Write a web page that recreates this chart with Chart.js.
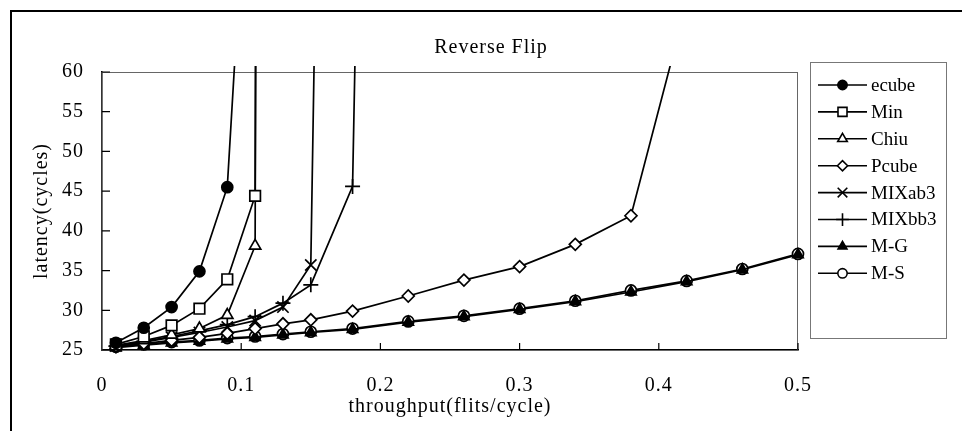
<!DOCTYPE html>
<html>
<head>
<meta charset="utf-8">
<script src="https://cdn.jsdelivr.net/npm/chart.js@4/dist/chart.umd.min.js"></script>
<style>
  html, body { margin: 0; padding: 0; background: #fff; }
  canvas { display: block; }
</style>
</head>
<body>
<canvas id="chart1" width="962" height="431"></canvas>
<script>
// values
var seriesNames = ["ecube", "Min", "Chiu", "Pcube", "MIXab3", "MIXbb3", "M-G", "M-S"];

var ecubeX = [0.01, 0.03, 0.05, 0.07, 0.09, 0.10];
var ecubeY = [25.9, 27.8, 30.4, 34.9, 45.5, 75];

var minX = [0.01, 0.03, 0.05, 0.07, 0.09, 0.11, 0.111];
var minY = [25.7, 26.7, 28.1, 30.2, 33.9, 44.4, 100];

var chiuX = [0.01, 0.03, 0.05, 0.07, 0.09, 0.11, 0.111];
var chiuY = [25.6, 26.2, 26.9, 27.7, 29.4, 38.1, 100];

var pcubeX = [0.01, 0.03, 0.05, 0.07, 0.09, 0.11, 0.13, 0.15, 0.18, 0.22, 0.26, 0.30, 0.34, 0.38, 0.42];
var pcubeY = [25.5, 25.8, 26.2, 26.6, 27.1, 27.7, 28.3, 28.8, 29.9, 31.8, 33.8, 35.5, 38.3, 41.9, 68.7];

var mixab3X = [0.01, 0.03, 0.05, 0.07, 0.09, 0.11, 0.13, 0.15, 0.156];
var mixab3Y = [25.5, 26.0, 26.6, 27.2, 27.9, 28.7, 30.4, 35.7, 100];

var mixbb3X = [0.01, 0.03, 0.05, 0.07, 0.09, 0.11, 0.13, 0.15, 0.18, 0.186];
var mixbb3Y = [25.5, 26.1, 26.7, 27.4, 28.2, 29.2, 30.9, 33.2, 45.6, 100];

var mgX = [0.01, 0.03, 0.05, 0.07, 0.09, 0.11, 0.13, 0.15, 0.18, 0.22, 0.26, 0.30, 0.34, 0.38, 0.42, 0.46, 0.50];
var mgY = [25.3, 25.6, 25.9, 26.1, 26.4, 26.6, 26.9, 27.2, 27.6, 28.5, 29.2, 30.1, 31.1, 32.3, 33.6, 35.1, 37.0];

var msX = [0.01, 0.03, 0.05, 0.07, 0.09, 0.11, 0.13, 0.15, 0.18, 0.22, 0.26, 0.30, 0.34, 0.38, 0.42, 0.46, 0.50];
var msY = [25.4, 25.7, 26.0, 26.2, 26.5, 26.7, 27.0, 27.3, 27.7, 28.6, 29.3, 30.2, 31.2, 32.5, 33.7, 35.2, 37.1];

var yTicks = [25, 30, 35, 40, 45, 50, 55, 60];
var xTicks = [0, 0.1, 0.2, 0.3, 0.4, 0.5];

var FONT = "'Liberation Serif', 'Times New Roman', serif";

function pts(xs, ys) {
    return xs.map(function (x, i) { return { x: x, y: ys[i] }; });
}

function series(label, xs, ys, style, radius, filled) {
    return {
        label: label,
        data: pts(xs, ys),
        borderColor: "#000",
        borderWidth: 1.7,
        backgroundColor: filled ? "#000" : "#fff",
        pointStyle: style,
        pointRadius: radius,
        pointHoverRadius: radius,
        pointBorderWidth: 1.7,
        pointBorderColor: "#000",
        pointBackgroundColor: filled ? "#000" : "#fff",
        tension: 0,
        clip: { left: 10, top: 6, right: 10, bottom: 10 }
    };
}

var datasets = [
    series(seriesNames[0], ecubeX, ecubeY, "circle", 5.5, true),
    series(seriesNames[1], minX, minY, "rect", 7.5, false),
    series(seriesNames[2], chiuX, chiuY, "triangle", 6.5, false),
    series(seriesNames[3], pcubeX, pcubeY, "rectRot", 6, false),
    series(seriesNames[4], mixab3X, mixab3Y, "crossRot", 8, false),
    series(seriesNames[5], mixbb3X, mixbb3Y, "cross", 7.5, false),
    series(seriesNames[6], mgX, mgY, "triangle", 6, true),
    series(seriesNames[7], msX, msY, "circle", 5.5, false)
];

// letter spacing to match the stretched serif text of the original
var spacing = {
    id: "spacing",
    beforeLayout: function (chart) { chart.ctx.letterSpacing = "1px"; },
    beforeDraw: function (chart) { chart.ctx.letterSpacing = "1px"; }
};

// outer frame, plot frame, inward tick marks
var frame = {
    id: "frame",
    beforeDraw: function (chart) {
        var ctx = chart.ctx;
        ctx.save();
        ctx.fillStyle = "#fff";
        ctx.fillRect(0, 0, chart.width, chart.height);
        ctx.strokeStyle = "#000";
        ctx.lineWidth = 2;
        ctx.beginPath();
        ctx.moveTo(11, chart.height + 2);
        ctx.lineTo(11, 11);
        ctx.lineTo(chart.width + 2, 11);
        ctx.stroke();
        ctx.restore();
    },
    beforeDatasetsDraw: function (chart) {
        var ctx = chart.ctx, a = chart.chartArea;
        var xs = chart.scales.x, ys = chart.scales.y;
        ctx.save();
        ctx.strokeStyle = "#666";
        ctx.lineWidth = 1;
        ctx.strokeRect(a.left, a.top + 0.5, a.right - a.left - 0.5, a.bottom - a.top);
        ctx.strokeStyle = "#000";
        ctx.lineWidth = 1.2;
        ctx.beginPath();
        yTicks.forEach(function (v) {
            var y = ys.getPixelForValue(v);
            ctx.moveTo(a.left, y);
            ctx.lineTo(a.left + 8, y);
        });
        xTicks.forEach(function (v) {
            if (v === 0) return;
            var x = xs.getPixelForValue(v);
            ctx.moveTo(x, a.bottom);
            ctx.lineTo(x, a.bottom - 7);
        });
        ctx.stroke();
        ctx.restore();
    }
};

// boxed legend with line + marker samples
var boxLegend = {
    id: "boxLegend",
    afterDraw: function (chart) {
        var ctx = chart.ctx;
        var left = 810, top = 62, right = 946, bottom = 338;
        ctx.save();
        ctx.strokeStyle = "#777";
        ctx.lineWidth = 1;
        ctx.strokeRect(left + 0.5, top + 0.5, right - left, bottom - top);
        ctx.font = "19px " + FONT;
        ctx.letterSpacing = "0px";
        ctx.textAlign = "left";
        ctx.textBaseline = "middle";
        chart.data.datasets.forEach(function (ds, i) {
            var y = 85 + i * 26.9;
            ctx.strokeStyle = "#000";
            ctx.lineWidth = 1.6;
            ctx.beginPath();
            ctx.moveTo(818, y);
            ctx.lineTo(867, y);
            ctx.stroke();
            ctx.fillStyle = ds.pointBackgroundColor;
            Chart.helpers.drawPoint(ctx, {
                pointStyle: ds.pointStyle,
                radius: ds.pointRadius * 0.85,
                rotation: 0,
                borderWidth: 1.4
            }, 842.5, y);
            ctx.fillStyle = "#000";
            ctx.fillText(ds.label, 871, y + 1);
        });
        ctx.restore();
    }
};

new Chart(document.getElementById("chart1").getContext("2d"), {
    type: "line",
    data: { datasets: datasets },
    plugins: [spacing, frame, boxLegend],
    options: {
        responsive: false,
        animation: false,
        events: [],
        layout: { padding: { left: 20, top: 0, right: 0, bottom: 0 } },
        plugins: {
            legend: { display: false },
            tooltip: { enabled: false },
            title: {
                display: true,
                text: "Reverse Flip",
                color: "#000",
                font: { family: FONT, size: 20, weight: "normal" },
                padding: { top: 36, bottom: 12 }
            }
        },
        scales: {
            x: {
                type: "linear",
                min: 0,
                max: 0.5,
                afterFit: function (s) { s.height = 81; },
                afterBuildTicks: function (s) {
                    s.ticks = xTicks.map(function (v) { return { value: v }; });
                },
                grid: { display: false, drawTicks: false },
                border: { display: true, color: "#000", width: 1.5 },
                ticks: {
                    color: "#000",
                    padding: 24,
                    maxRotation: 0,
                    font: { family: FONT, size: 20 },
                    callback: function (v) { return String(+v.toFixed(2)); }
                },
                title: {
                    display: true,
                    text: "throughput(flits/cycle)",
                    color: "#000",
                    font: { family: FONT, size: 20 },
                    padding: { top: 0, bottom: 12 }
                }
            },
            y: {
                type: "linear",
                min: 25,
                max: 60,
                afterFit: function (s) { s.width = 82; },
                afterBuildTicks: function (s) {
                    s.ticks = yTicks.map(function (v) { return { value: v }; });
                },
                grid: { display: false, drawTicks: false },
                border: { display: true, color: "#000", width: 1.5 },
                ticks: {
                    color: "#000",
                    padding: 18,
                    font: { family: FONT, size: 20 }
                },
                title: {
                    display: true,
                    text: "latency(cycles)",
                    color: "#000",
                    font: { family: FONT, size: 20 },
                    padding: { top: 10, bottom: 0 }
                }
            },
            // empty right-hand scale that keeps room for the boxed legend
            side: {
                type: "linear",
                position: "right",
                min: 25,
                max: 60,
                afterFit: function (s) { s.width = 164; },
                grid: { display: false, drawTicks: false },
                border: { display: false },
                ticks: { display: false }
            }
        }
    }
});
</script>
</body>
</html>
